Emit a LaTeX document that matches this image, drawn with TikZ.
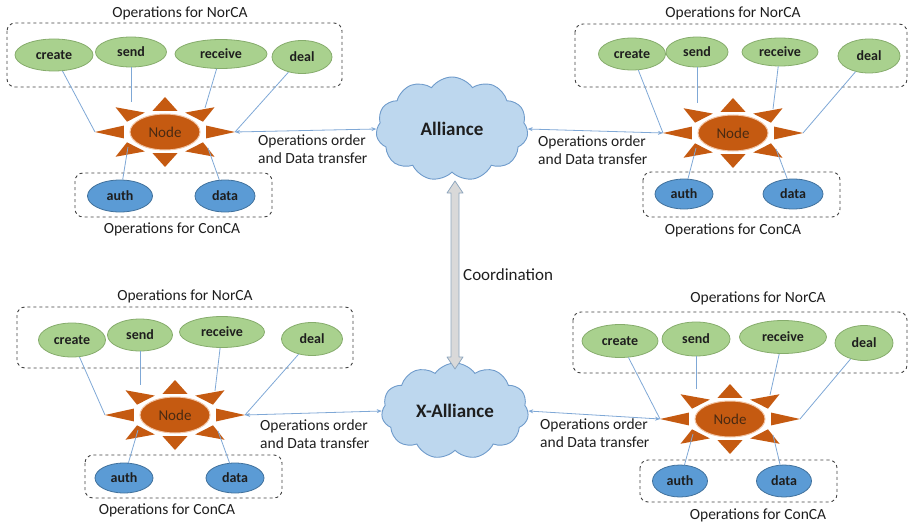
\documentclass[tikz,border=0pt]{standalone}
\usepackage{fontspec}
\setmainfont{Carlito}
\usetikzlibrary{shapes.geometric,shapes.symbols,arrows.meta,calc}
\definecolor{gfill}{HTML}{A9D18E}
\definecolor{gline}{HTML}{86AC6C}
\definecolor{bfill}{HTML}{5B9BD5}
\definecolor{bline}{HTML}{41719C}
\definecolor{sunc}{HTML}{C55A11}
\definecolor{sunedge}{HTML}{F2C4A4}
\definecolor{nodetxt}{HTML}{4A2A12}
\definecolor{txt}{HTML}{1E1E1E}
\definecolor{boxc}{HTML}{404040}
\definecolor{lnk}{HTML}{7FA8D6}
\definecolor{cloudfill}{HTML}{BDD7EE}
\definecolor{cloudline}{HTML}{6F9BCB}
\definecolor{arrfill}{HTML}{D9D9D9}
\definecolor{arrline}{HTML}{8EA6BE}
\newcommand\sunrays[1]{%
  \begin{scope}[shift={(#1.center)}]
    \foreach \a in {0,45,...,315}{
      \fill[sunc] ({43*cos(\a-17)},{22*sin(\a-17)}) -- ({70*cos(\a)},{35*sin(\a)}) -- ({43*cos(\a+17)},{22*sin(\a+17)}) -- cycle;
    }
  \end{scope}
  \coordinate (#1-L) at ($(#1.center)+(-70,0)$);
  \coordinate (#1-R) at ($(#1.center)+(70,0)$);
  \coordinate (#1-ul) at ($(#1.center)+(-34,-30)$);
  \coordinate (#1-ur) at ($(#1.center)+(40,-24)$);
  \coordinate (#1-ll) at ($(#1.center)+(-37,15)$);
  \coordinate (#1-lr) at ($(#1.center)+(43,16)$);
}
\begin{document}
\begin{tikzpicture}[x=1pt,y=-1pt,
  ops/.style={ellipse,draw=gline,fill=gfill,line width=0.8pt,inner sep=0pt,font=\fontsize{14}{16}\selectfont\bfseries,text=txt},
  con/.style={ellipse,draw=bline,fill=bfill,line width=0.8pt,inner sep=0pt,font=\fontsize{14}{16}\selectfont\bfseries,text=txt},
  core/.style={ellipse,fill=sunc,draw=sunedge,line width=1pt,minimum width=70pt,minimum height=36pt,inner sep=0pt,font=\fontsize{15}{17}\selectfont,text=nodetxt},
  ttl/.style={font=\fontsize{15.5}{18}\selectfont,text=txt,inner sep=0pt},
  info/.style={font=\fontsize{15.5}{18}\selectfont,text=txt,align=left,anchor=west,inner sep=0pt},
  dbox/.style={draw=boxc,dashed,line width=0.9pt,rounded corners=8pt},
  link/.style={draw=lnk,line width=0.8pt},
  flow/.style={draw=lnk,line width=0.8pt,{Stealth[length=5pt,width=4pt]}-{Stealth[length=5pt,width=4pt]}},
  cld/.style={cloud,cloud ignores aspect,cloud puffs=11,cloud puff arc=110,draw=cloudline,fill=cloudfill,line width=0.9pt,inner sep=0pt,font=\fontsize{19}{22}\selectfont\bfseries,text=txt}
]
\useasboundingbox (0,0) rectangle (909,524);

% ---------- clouds ----------
\node[cld,minimum width=152pt,minimum height=104pt] (A) at (452,129) {Alliance};
\node[cld,minimum width=147pt,minimum height=96pt] (X) at (455,411) {X-Alliance};

% coordination arrow
\coordinate (ct) at (455,181);
\coordinate (cb) at (455,369);
\draw[fill=arrfill,draw=arrline,line width=0.8pt,line join=round]
  (ct) -- ($(ct)+(8,12)$) -- ($(ct)+(4,12)$) -- ($(cb)+(4,-12)$) -- ($(cb)+(8,-12)$) -- (cb)
  -- ($(cb)+(-8,-12)$) -- ($(cb)+(-4,-12)$) -- ($(ct)+(-4,12)$) -- ($(ct)+(-8,12)$) -- cycle;
\node[font=\fontsize{17}{20}\selectfont,text=txt,anchor=west,inner sep=0pt] (coord) at (463,275) {Coordination};

% ---------- top left ----------
\draw[dbox] (7,23) rectangle (342,87);
\draw[dbox] (75,173) rectangle (272,217);
\node[ttl] (tl-t1) at (180,13) {Operations for NorCA};
\node[ttl] (tl-t2) at (172,229) {Operations for ConCA};
\node[ops,minimum width=78pt,minimum height=32pt] (tl-create) at (54,55) {create};
\node[ops,minimum width=71pt,minimum height=30pt] (tl-send) at (131,52) {send};
\node[ops,minimum width=92pt,minimum height=29pt] (tl-receive) at (221,54) {receive};
\node[ops,minimum width=60pt,minimum height=33pt] (tl-deal) at (302,57) {deal};
\node[con,minimum width=65pt,minimum height=32pt] (tl-auth) at (120,196) {auth};
\node[con,minimum width=60pt,minimum height=32pt] (tl-data) at (225,196) {data};
\node[core] (tl) at (165,132) {Node};
\sunrays{tl}
\draw[link] (tl-create) -- (tl-L);
\draw[link] (tl-send.south) -- (tl-send.south |- tl-ul);
\draw[link] (tl-receive) -- (tl-ur);
\draw[link] (tl-deal) -- (tl-R);
\draw[link] (tl-auth) -- (tl-ll);
\draw[link] (tl-data) -- (tl-lr);
\draw[flow] (tl-R) -- (A.west);
\node[info] (tl-info) at (258,149) {Operations order\\and Data transfer};

% ---------- top right ----------
\draw[dbox] (575,24) rectangle (907,87);
\draw[dbox] (643,172) rectangle (840,217);
\node[ttl] (tr-t1) at (733,13) {Operations for NorCA};
\node[ttl] (tr-t2) at (733,230) {Operations for ConCA};
\node[ops,minimum width=67pt,minimum height=32pt] (tr-create) at (632,54) {create};
\node[ops,minimum width=62pt,minimum height=30pt] (tr-send) at (697,52) {send};
\node[ops,minimum width=76pt,minimum height=28pt] (tr-receive) at (780,52) {receive};
\node[ops,minimum width=62pt,minimum height=34pt] (tr-deal) at (869,56) {deal};
\node[con,minimum width=58pt,minimum height=30pt] (tr-auth) at (684,194) {auth};
\node[con,minimum width=60pt,minimum height=30pt] (tr-data) at (793,194) {data};
\node[core] (tr) at (733,133) {Node};
\sunrays{tr}
\draw[link] (tr-create) -- (tr-L);
\draw[link] (tr-send.south) -- (tr-send.south |- tr-ul);
\draw[link] (tr-receive) -- (tr-ur);
\draw[link] (tr-deal) -- (tr-R);
\draw[link] (tr-auth) -- (tr-ll);
\draw[link] (tr-data) -- (tr-lr);
\draw[flow] (A.east) -- (tr-L);
\node[info] (tr-info) at (538,150) {Operations order\\and Data transfer};

% ---------- bottom left ----------
\draw[dbox] (17,307) rectangle (353,368);
\draw[dbox] (85,455) rectangle (282,498);
\node[ttl] (bl-t1) at (185,296) {Operations for NorCA};
\node[ttl] (bl-t2) at (167,510) {Operations for ConCA};
\node[ops,minimum width=67pt,minimum height=34pt] (bl-create) at (72,340) {create};
\node[ops,minimum width=65pt,minimum height=32pt] (bl-send) at (140,335) {send};
\node[ops,minimum width=85pt,minimum height=31pt] (bl-receive) at (222,332) {receive};
\node[ops,minimum width=61pt,minimum height=33pt] (bl-deal) at (312,339) {deal};
\node[con,minimum width=58pt,minimum height=30pt] (bl-auth) at (124,478) {auth};
\node[con,minimum width=58pt,minimum height=30pt] (bl-data) at (235,478) {data};
\node[core] (bl) at (175,415) {Node};
\sunrays{bl}
\draw[link] (bl-create) -- (bl-L);
\draw[link] (bl-send.south) -- (bl-send.south |- bl-ul);
\draw[link] (bl-receive) -- (bl-ur);
\draw[link] (bl-deal) -- (bl-R);
\draw[link] (bl-auth) -- (bl-ll);
\draw[link] (bl-data) -- (bl-lr);
\draw[flow] (bl-R) -- (X.west);
\node[info] (bl-info) at (260,434) {Operations order\\and Data transfer};

% ---------- bottom right ----------
\draw[dbox] (573,312) rectangle (907,373);
\draw[dbox] (640,460) rectangle (837,502);
\node[ttl] (br-t1) at (758,298) {Operations for NorCA};
\node[ttl] (br-t2) at (758,515) {Operations for ConCA};
\node[ops,minimum width=76pt,minimum height=33pt] (br-create) at (620,341) {create};
\node[ops,minimum width=68pt,minimum height=34pt] (br-send) at (696,339) {send};
\node[ops,minimum width=87pt,minimum height=33pt] (br-receive) at (783,337) {receive};
\node[ops,minimum width=58pt,minimum height=35pt] (br-deal) at (864,343) {deal};
\node[con,minimum width=55pt,minimum height=32pt] (br-auth) at (680,481) {auth};
\node[con,minimum width=55pt,minimum height=32pt] (br-data) at (784,481) {data};
\node[core] (br) at (730,419) {Node};
\sunrays{br}
\draw[link] (br-create) -- (br-L);
\draw[link] (br-send.south) -- (br-send.south |- br-ul);
\draw[link] (br-receive) -- (br-ur);
\draw[link] (br-deal) -- (br-R);
\draw[link] (br-auth) -- (br-ll);
\draw[link] (br-data) -- (br-lr);
\draw[flow] (X.east) -- (br-L);
\node[info] (br-info) at (540,433) {Operations order\\and Data transfer};
\end{tikzpicture}
\end{document}
